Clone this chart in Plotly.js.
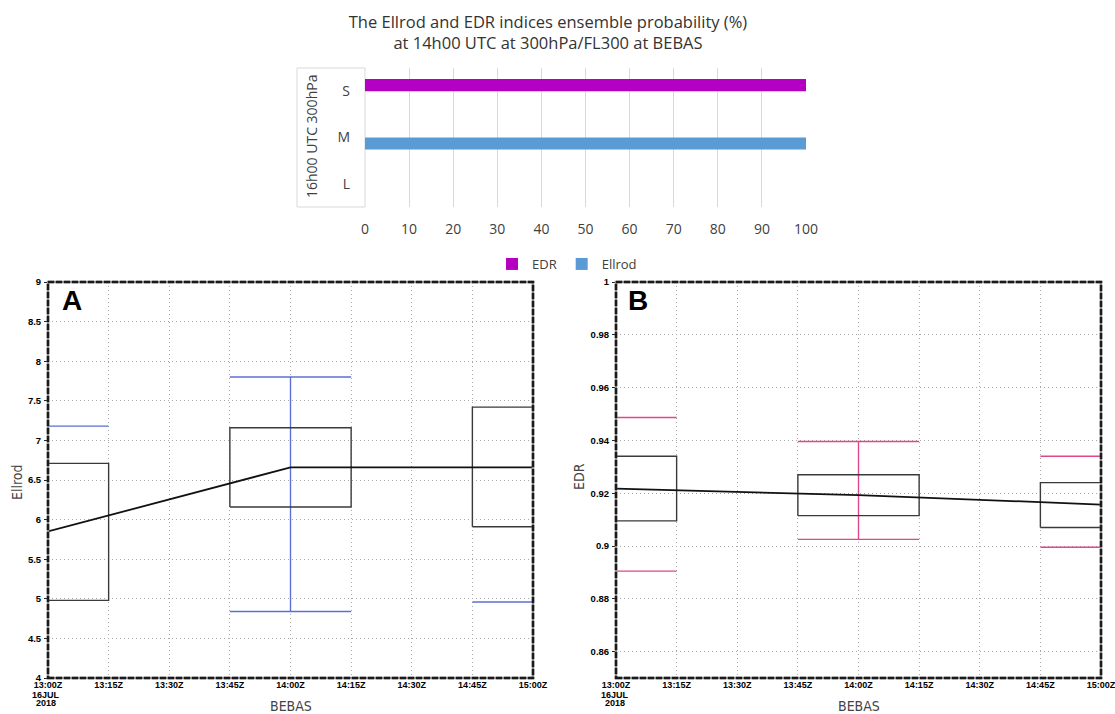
<!DOCTYPE html>
<html>
<head>
<meta charset="utf-8">
<script src="https://cdn.plot.ly/plotly-3.0.1.min.js"></script>
<style>
html,body{margin:0;padding:0;background:#fff;}
#chart{width:1115px;height:714px;}
</style>
</head>
<body>
<div id="chart"></div>
<script>
// ---------- Top chart: ensemble probability (%) ----------
const probCategories = ['L', 'M', 'S'];
const probEDR = [0, 0, 100];
const probEllrod = [0, 100, 0];
const probTicks = [0, 10, 20, 30, 40, 50, 60, 70, 80, 90, 100];

// ---------- Time axis (minutes after 13:00Z, 16 JUL 2018) ----------
const timeTickMinutes = [0, 15, 30, 45, 60, 75, 90, 105, 120];
const timeTickLabels = ['13:00Z', '13:15Z', '13:30Z', '13:45Z', '14:00Z', '14:15Z', '14:30Z', '14:45Z', '15:00Z'];
const dateLabelLines = ['16JUL', '2018'];
const ensembleTimes = [0, 60, 120];
const boxHalfWidth = 15;

// ---------- Panel A: Ellrod ----------
const ellrodBoxLow = [4.98, 6.16, 5.91];
const ellrodBoxHigh = [6.71, 7.16, 7.42];
const ellrodWhiskerLow = [null, 4.84, 4.96];
const ellrodWhiskerHigh = [7.18, 7.80, null];
const ellrodMean = [5.85, 6.66, 6.66];
const ellrodTicks = [4, 4.5, 5, 5.5, 6, 6.5, 7, 7.5, 8, 8.5, 9];

// ---------- Panel B: EDR ----------
const edrBoxLow = [0.9095, 0.9115, 0.907];
const edrBoxHigh = [0.934, 0.927, 0.924];
const edrWhiskerLow = [0.8905, 0.9025, 0.8995];
const edrWhiskerHigh = [0.9487, 0.9396, 0.934];
const edrMean = [0.9217, 0.9193, 0.9157];
const edrTicks = [0.86, 0.88, 0.9, 0.92, 0.94, 0.96, 0.98, 1];
const edrTickText = ['0.86', '0.88', '0.9', '0.92', '0.94', '0.96', '0.98', '1'];

function boxPath(times, lo, hi) {
  const xs = [], ys = [];
  times.forEach((t, i) => {
    const t0 = t - boxHalfWidth, t1 = t + boxHalfWidth;
    xs.push(t0, t1, t1, t0, t0, null);
    ys.push(lo[i], lo[i], hi[i], hi[i], lo[i], null);
  });
  return {x: xs, y: ys};
}
function whiskerPath(times, lo, hi) {
  const xs = [], ys = [];
  times.forEach((t, i) => {
    const t0 = t - boxHalfWidth, t1 = t + boxHalfWidth;
    [lo[i], hi[i]].forEach(v => {
      if (v !== null) { xs.push(t0, t1, null); ys.push(v, v, null); }
    });
    if (lo[i] !== null && hi[i] !== null) { xs.push(t, t, null); ys.push(lo[i], hi[i], null); }
  });
  return {x: xs, y: ys};
}

const boxColor = '#3a3a3a';
const meanColor = '#111111';
const ellrodWhiskColor = '#5d6fd3';
const edrWhiskColor = '#e0468c';

const aBox = boxPath(ensembleTimes, ellrodBoxLow, ellrodBoxHigh);
const aWh = whiskerPath(ensembleTimes, ellrodWhiskerLow, ellrodWhiskerHigh);
const bBox = boxPath(ensembleTimes, edrBoxLow, edrBoxHigh);
const bWh = whiskerPath(ensembleTimes, edrWhiskerLow, edrWhiskerHigh);

const traces = [
  {type: 'bar', orientation: 'h', name: 'Ellrod', y: probCategories, x: probEllrod, xaxis: 'x', yaxis: 'y',
   marker: {color: '#5b9bd5'}, legendrank: 2, hoverinfo: 'x+y'},
  {type: 'bar', orientation: 'h', name: 'EDR', y: probCategories, x: probEDR, xaxis: 'x', yaxis: 'y',
   marker: {color: '#b300c3'}, legendrank: 1, hoverinfo: 'x+y'},

  {type: 'scatter', mode: 'lines', x: aWh.x, y: aWh.y, xaxis: 'x2', yaxis: 'y2', showlegend: false,
   line: {color: ellrodWhiskColor, width: 1.4}, hoverinfo: 'y'},
  {type: 'scatter', mode: 'lines', x: aBox.x, y: aBox.y, xaxis: 'x2', yaxis: 'y2', showlegend: false,
   line: {color: boxColor, width: 1.4}, hoverinfo: 'y'},
  {type: 'scatter', mode: 'lines', x: ensembleTimes, y: ellrodMean, xaxis: 'x2', yaxis: 'y2', showlegend: false,
   line: {color: meanColor, width: 1.8}, hoverinfo: 'y'},

  {type: 'scatter', mode: 'lines', x: bWh.x, y: bWh.y, xaxis: 'x3', yaxis: 'y3', showlegend: false,
   line: {color: edrWhiskColor, width: 1.4}, hoverinfo: 'y'},
  {type: 'scatter', mode: 'lines', x: bBox.x, y: bBox.y, xaxis: 'x3', yaxis: 'y3', showlegend: false,
   line: {color: boxColor, width: 1.4}, hoverinfo: 'y'},
  {type: 'scatter', mode: 'lines', x: ensembleTimes, y: edrMean, xaxis: 'x3', yaxis: 'y3', showlegend: false,
   line: {color: meanColor, width: 1.8}, hoverinfo: 'y'}
];

const W = 1115, H = 714;
const px = v => v / W;
const py = v => 1 - v / H;

const tickFontSmall = {family: 'Liberation Sans, Arial, sans-serif', size: 9, weight: 'bold', color: '#000'};
const tickFontY = {family: 'Liberation Sans, Arial, sans-serif', size: 9.5, weight: 'bold', color: '#000'};
const excelFont = {family: 'Open Sans, sans-serif', size: 14, color: '#404040'};
const gridDots = '1px,3px';

function panelX(domain) {
  return {domain: domain, range: [0, 120], tickvals: timeTickMinutes, ticktext: timeTickLabels,
    showgrid: true, gridcolor: '#a8a8a8', griddash: gridDots, gridwidth: 1, zeroline: false, showline: false,
    ticks: '', tickfont: tickFontSmall, ticklabelstandoff: 0, ticklabeloverflow: 'allow',
    fixedrange: true, automargin: false};
}
function panelY(range, vals, text) {
  return {domain: [py(678), py(282)], range: range, tickvals: vals, ticktext: text,
    showgrid: true, gridcolor: '#a8a8a8', griddash: gridDots, gridwidth: 1, zeroline: false, showline: false,
    ticks: 'outside', ticklen: 3, tickcolor: '#222', tickwidth: 1, tickfont: tickFontY, ticklabelstandoff: 1,
    ticklabeloverflow: 'allow', fixedrange: true, automargin: false};
}
function frame(xr, yr) {
  return [
    {type: 'rect', xref: xr + ' domain', yref: yr + ' domain', x0: 0, x1: 1, y0: 0, y1: 1,
     line: {color: '#8a8a8a', width: 2.5}, layer: 'above'},
    {type: 'rect', xref: xr + ' domain', yref: yr + ' domain', x0: 0, x1: 1, y0: 0, y1: 1,
     line: {color: '#1a1a1a', width: 2.5, dash: '6px,2px'}, layer: 'above'}
  ];
}
function dateLines(xPix) {
  return dateLabelLines.map((t, i) => ({
    text: t, xref: 'paper', yref: 'paper', x: px(xPix), y: py(694.5 + i * 8.5),
    xanchor: 'center', yanchor: 'middle', showarrow: false, font: tickFontSmall
  }));
}

const layout = {
  width: W, height: H,
  margin: {l: 0, r: 0, t: 0, b: 0},
  paper_bgcolor: '#ffffff', plot_bgcolor: '#ffffff',
  font: {family: 'Open Sans, sans-serif', color: '#404040'},
  title: {text: 'The Ellrod and EDR indices ensemble probability (%)<br>at 14h00 UTC at 300hPa/FL300 at BEBAS',
    x: px(548), xanchor: 'center', y: py(28), yanchor: 'middle',
    font: {family: 'Open Sans, sans-serif', size: 16.5, color: '#333333'}},
  barmode: 'group', bargap: 0.48, bargroupgap: 0,
  showlegend: true,
  legend: {orientation: 'h', x: px(567), xanchor: 'center', y: py(264), yanchor: 'middle',
    font: {family: 'Open Sans, sans-serif', size: 13, color: '#404040'}, bgcolor: 'rgba(0,0,0,0)',
    itemwidth: 30},
  xaxis: {domain: [px(365), px(806)], anchor: 'y', range: [0, 100], tickvals: probTicks,
    showgrid: true, gridcolor: '#d9d9d9', gridwidth: 1, zeroline: false, showline: false, ticks: '',
    tickfont: excelFont, ticklabelstandoff: 12, fixedrange: true, automargin: false},
  yaxis: {domain: [py(207), py(68)], anchor: 'x', type: 'category', categoryorder: 'array',
    categoryarray: probCategories, range: [-0.5, 2.5], showgrid: false, zeroline: false, showline: false,
    ticks: '', tickfont: excelFont, ticklabelstandoff: 14, fixedrange: true, automargin: false},
  xaxis2: Object.assign(panelX([px(48), px(533)]), {anchor: 'y2'}),
  yaxis2: Object.assign(panelY([4, 9], ellrodTicks, ellrodTicks.map(String)), {anchor: 'x2'}),
  xaxis3: Object.assign(panelX([px(616), px(1101)]), {anchor: 'y3'}),
  yaxis3: Object.assign(panelY([0.85, 1], edrTicks, edrTickText), {anchor: 'x3'}),
  shapes: [
    {type: 'rect', xref: 'paper', yref: 'paper', x0: px(297), x1: px(365), y0: py(207), y1: py(68),
     line: {color: '#d9d9d9', width: 1}, layer: 'below'}
  ].concat(frame('x2', 'y2'), frame('x3', 'y3')),
  annotations: [
    {text: '16h00 UTC 300hPa', textangle: -90, xref: 'paper', yref: 'paper', x: px(311), y: py(137),
     xanchor: 'center', yanchor: 'middle', showarrow: false, font: {family: 'Open Sans, sans-serif', size: 14, color: '#404040'}},
    {text: '<b>A</b>', xref: 'paper', yref: 'paper', x: px(72), y: py(300), xanchor: 'center', yanchor: 'middle',
     showarrow: false, font: {family: 'Liberation Sans, Arial, sans-serif', size: 28, color: '#000'}},
    {text: '<b>B</b>', xref: 'paper', yref: 'paper', x: px(638), y: py(300), xanchor: 'center', yanchor: 'middle',
     showarrow: false, font: {family: 'Liberation Sans, Arial, sans-serif', size: 28, color: '#000'}},
    {text: 'Ellrod', textangle: -90, xref: 'paper', yref: 'paper', x: px(17), y: py(482), xanchor: 'center', yanchor: 'middle',
     showarrow: false, font: {family: 'DejaVu Sans Condensed, Roboto, sans-serif', size: 14, color: '#444'}},
    {text: 'EDR', textangle: -90, xref: 'paper', yref: 'paper', x: px(579), y: py(477), xanchor: 'center', yanchor: 'middle',
     showarrow: false, font: {family: 'DejaVu Sans Condensed, Roboto, sans-serif', size: 14, color: '#444'}},
    {text: 'BEBAS', xref: 'paper', yref: 'paper', x: px(291), y: py(706), xanchor: 'center', yanchor: 'middle',
     showarrow: false, font: {family: 'DejaVu Sans Condensed, Roboto, sans-serif', size: 14, color: '#444'}},
    {text: 'BEBAS', xref: 'paper', yref: 'paper', x: px(859), y: py(706), xanchor: 'center', yanchor: 'middle',
     showarrow: false, font: {family: 'DejaVu Sans Condensed, Roboto, sans-serif', size: 14, color: '#444'}}
  ].concat(dateLines(46), dateLines(615))
};

Plotly.newPlot('chart', traces, layout, {displayModeBar: false, staticPlot: true});
</script>
</body>
</html>
